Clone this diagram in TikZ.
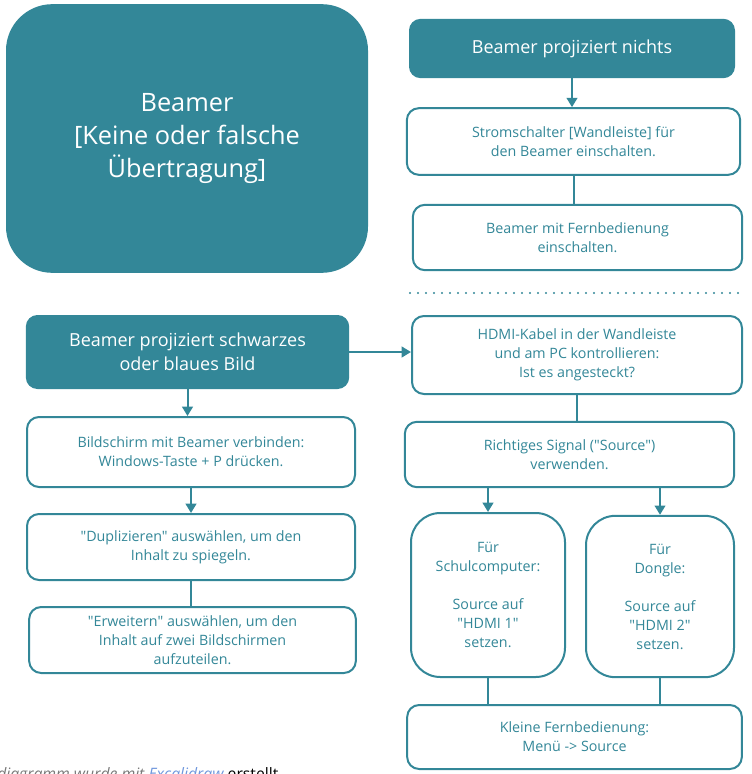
\documentclass[tikz,border=0pt]{standalone}
\usepackage{fontspec}
\setmainfont{Open Sans}[Ligatures=TeXOff]
\usepackage{xcolor}
\usepackage{tikz}
\usetikzlibrary{arrows.meta, positioning, calc}
\definecolor{myteal}{RGB}{51,135,152}
\definecolor{mygray}{RGB}{120,120,120}
\definecolor{myblue}{RGB}{110,150,220}
\newcommand{\qdq}[1]{\symbol{34}#1\symbol{34}}
\tikzset{
  bigblock/.style={rectangle, draw=myteal, fill=myteal, text=white,
    align=center, rounded corners=34pt, line width=1.5pt,
    font=\fontsize{19}{24.5}\selectfont},
  headblock/.style={rectangle, draw=myteal, fill=myteal, text=white,
    align=center, rounded corners=8pt, line width=1.5pt,
    font=\fontsize{13.5}{18}\selectfont},
  stepblock/.style={rectangle, draw=myteal, fill=white, text=myteal,
    align=center, rounded corners=9pt, line width=1.5pt,
    font=\fontsize{10.7}{14.25}\selectfont},
  tallblock/.style={stepblock, rounded corners=22pt},
  arrow/.style={-{Triangle[width=8pt,length=7pt]}, line width=1.5pt, color=myteal},
  line/.style={line width=1.5pt, color=myteal},
  dotline/.style={line width=1.8pt, color=myteal, line cap=round, dash pattern=on 0pt off 6pt}
}
\begin{document}
\begin{tikzpicture}[x=0.75pt, y=-0.75pt]
  \useasboundingbox (0,0) rectangle (752,774);

  \node[bigblock, minimum width=270pt, minimum height=200pt] (title) at (187,138.5) {\rule{0pt}{8pt}Beamer\\{[}Keine oder falsche\\Übertragung{]}};

  % kein Bild
  \node[headblock, minimum width=243pt, minimum height=43pt] (nichts) at (572,48.5) {Beamer projiziert nichts};
  \node[stepblock, minimum width=250pt, minimum height=50pt] (strom) at (573.5,141.5) {Stromschalter [Wandleiste] für\\den Beamer einschalten.};
  \node[stepblock, minimum width=247pt, minimum height=49pt] (fern) at (577.5,237.5) {Beamer mit Fernbedienung\\einschalten.};

  \coordinate (dotA) at (410,293);
  \coordinate (dotB) at (740,293);
  \draw[dotline] (dotA) -- (dotB);

  % schwarzes / blaues Bild
  \node[headblock, minimum width=241pt, minimum height=54pt] (schwarz) at (187.5,352) {Beamer projiziert schwarzes\\oder blaues Bild};
  \node[stepblock, minimum width=246pt, minimum height=52.5pt] (bild) at (191,452) {Bildschirm mit Beamer verbinden:\\Windows-Taste + P drücken.};
  \node[stepblock, minimum width=246pt, minimum height=49.5pt] (dupl) at (191,547) {\qdq{Duplizieren} auswählen, um den\\Inhalt zu spiegeln.};
  \node[stepblock, minimum width=245pt, minimum height=49.5pt] (erw) at (192.5,640) {\qdq{Erweitern} auswählen, um den\\Inhalt auf zwei Bildschirmen\\aufzuteilen.};

  \node[stepblock, minimum width=247.5pt, minimum height=58.5pt] (hdmi) at (577,355) {HDMI-Kabel in der Wandleiste\\und am PC kontrollieren:\\Ist es angesteckt?};
  \node[stepblock, minimum width=247pt, minimum height=49pt] (signal) at (569.5,454.5) {Richtiges Signal (\qdq{Source})\\verwenden.};
  \node[tallblock, minimum width=115.5pt, minimum height=123pt] (schul) at (488,595) {Für\\Schulcomputer:\\[14.25pt]Source auf\\\qdq{HDMI 1}\\setzen.};
  \node[tallblock, minimum width=111pt, minimum height=121pt] (dongle) at (660,596.5) {Für\\Dongle:\\[14.25pt]Source auf\\\qdq{HDMI 2}\\setzen.};
  \node[stepblock, minimum width=251pt, minimum height=48pt] (klein) at (574.5,737) {Kleine Fernbedienung:\\Menü -> Source};

  \node[anchor=base west, inner sep=0pt, font=\fontsize{11.8}{14}\selectfont] (credit) at (-3,779)
    {\textcolor{mygray}{\itshape diagramm wurde mit} \textcolor{myblue}{\itshape Excalidraw} erstellt};

  \draw[arrow] (nichts.south) -- (nichts.south |- strom.north);
  \draw[line] (strom.south) -- (strom.south |- fern.north);

  \draw[arrow] (schwarz.south) -- (schwarz.south |- bild.north);
  \draw[arrow] (bild.south) -- (bild.south |- dupl.north);
  \draw[line] (dupl.south) -- (dupl.south |- erw.north);

  \draw[arrow] (schwarz.east) -- (schwarz.east -| hdmi.west);
  \draw[line] (hdmi.south) -- (hdmi.south |- signal.north);
  \draw[arrow] (schul.north |- signal.south) -- (schul.north);
  \draw[arrow] (dongle.north |- signal.south) -- (dongle.north);
  \draw[line] (schul.south) -- (schul.south |- klein.north);
  \draw[line] (dongle.south) -- (dongle.south |- klein.north);
\end{tikzpicture}
\end{document}
